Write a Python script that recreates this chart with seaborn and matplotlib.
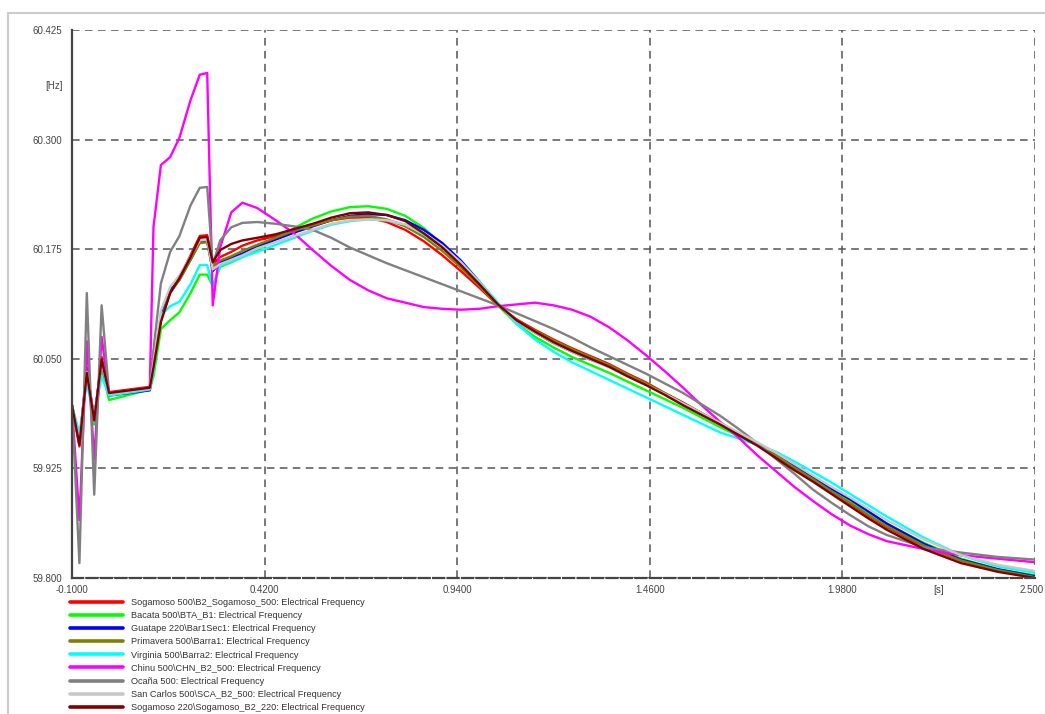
import pandas as pd
import seaborn as sns
import matplotlib.pyplot as plt
import matplotlib.transforms as mtransforms
from matplotlib.lines import Line2D
from matplotlib.ticker import FixedLocator, FixedFormatter

# time axis [s], shared by all busbars
time_s = [-0.10, -0.08, -0.06, -0.04, -0.02, 0.00, 0.11, 0.12, 0.14, 0.165,
          0.19, 0.22, 0.245, 0.265, 0.28, 0.30,
          0.33, 0.36, 0.40, 0.45, 0.50, 0.55, 0.60, 0.65, 0.70, 0.75,
          0.80, 0.85, 0.90, 0.95, 1.00, 1.05, 1.10, 1.15, 1.20, 1.25,
          1.30, 1.35, 1.40, 1.45, 1.50, 1.55, 1.60, 1.65, 1.70, 1.75,
          1.80, 1.85, 1.90, 1.95, 2.00, 2.05, 2.10, 2.20, 2.30, 2.40, 2.50]

# electrical frequency [Hz]
sogamoso500 = [59.997, 59.950, 60.040, 59.978, 60.052, 60.012, 60.018, 60.040, 60.094, 60.126,
               60.143, 60.168, 60.190, 60.191, 60.158, 60.166,
               60.172, 60.179, 60.185, 60.190, 60.196, 60.202, 60.208, 60.211, 60.211, 60.206,
               60.197, 60.184, 60.168, 60.150, 60.131, 60.111, 60.095, 60.083, 60.072, 60.062,
               60.053, 60.044, 60.033, 60.023, 60.011, 60.000, 59.988, 59.977, 59.965, 59.953,
               59.939, 59.926, 59.912, 59.899, 59.885, 59.871, 59.858, 59.836, 59.820, 59.809, 59.801]
bacata500 = [59.997, 59.955, 60.030, 59.975, 60.040, 60.003, 60.015, 60.030, 60.084, 60.094,
             60.103, 60.125, 60.146, 60.146, 60.133, 60.155,
             60.160, 60.166, 60.174, 60.187, 60.199, 60.210, 60.218, 60.223, 60.224, 60.221,
             60.213, 60.199, 60.180, 60.157, 60.134, 60.111, 60.090, 60.075, 60.063, 60.052,
             60.043, 60.034, 60.024, 60.014, 60.004, 59.994, 59.983, 59.972, 59.962, 59.952,
             59.941, 59.928, 59.915, 59.902, 59.889, 59.875, 59.862, 59.840, 59.822, 59.810, 59.803]
guatape220 = [59.997, 59.955, 60.036, 59.982, 60.046, 60.008, 60.014, 60.040, 60.100, 60.128,
              60.140, 60.163, 60.183, 60.184, 60.150, 60.160,
              60.165, 60.170, 60.178, 60.186, 60.194, 60.201, 60.208, 60.213, 60.215, 60.214,
              60.208, 60.197, 60.182, 60.162, 60.138, 60.112, 60.093, 60.080, 60.068, 60.058,
              60.049, 60.041, 60.031, 60.021, 60.010, 59.999, 59.987, 59.976, 59.964, 59.953,
              59.941, 59.928, 59.915, 59.902, 59.890, 59.876, 59.862, 59.839, 59.821, 59.810, 59.802]
primavera500 = [59.997, 59.952, 60.036, 59.980, 60.048, 60.010, 60.016, 60.038, 60.095, 60.125,
                60.140, 60.163, 60.182, 60.183, 60.155, 60.162,
                60.167, 60.173, 60.180, 60.188, 60.196, 60.202, 60.208, 60.212, 60.213, 60.209,
                60.201, 60.189, 60.173, 60.154, 60.133, 60.111, 60.094, 60.082, 60.071, 60.061,
                60.052, 60.043, 60.032, 60.022, 60.011, 59.999, 59.988, 59.976, 59.964, 59.952,
                59.940, 59.926, 59.913, 59.899, 59.886, 59.872, 59.859, 59.837, 59.820, 59.809, 59.801]
virginia500 = [59.997, 59.965, 60.022, 59.985, 60.030, 60.008, 60.015, 60.035, 60.100, 60.110,
               60.115, 60.135, 60.157, 60.157, 60.132, 60.156,
               60.161, 60.166, 60.172, 60.180, 60.188, 60.196, 60.203, 60.207, 60.209, 60.208,
               60.203, 60.192, 60.178, 60.160, 60.138, 60.114, 60.090, 60.072, 60.058, 60.046,
               60.036, 60.026, 60.016, 60.006, 59.996, 59.986, 59.976, 59.966, 59.959, 59.952,
               59.944, 59.933, 59.921, 59.909, 59.896, 59.883, 59.870, 59.846, 59.826, 59.813, 59.806]
chinu500 = [59.997, 59.866, 60.070, 59.935, 60.075, 60.011, 60.017, 60.200, 60.271, 60.280,
            60.302, 60.345, 60.374, 60.376, 60.111, 60.177,
            60.217, 60.228, 60.222, 60.208, 60.193, 60.174, 60.156, 60.140, 60.128, 60.119,
            60.114, 60.109, 60.107, 60.106, 60.107, 60.110, 60.112, 60.114, 60.111, 60.106,
            60.098, 60.086, 60.071, 60.054, 60.036, 60.017, 59.997, 59.978, 59.960, 59.940,
            59.922, 59.904, 59.888, 59.873, 59.860, 59.850, 59.842, 59.833, 59.826, 59.822, 59.818]
ocana500 = [59.997, 59.817, 60.125, 59.895, 60.111, 60.011, 60.017, 60.060, 60.136, 60.172,
            60.190, 60.225, 60.245, 60.246, 60.157, 60.185,
            60.200, 60.205, 60.206, 60.204, 60.201, 60.197, 60.188, 60.177, 60.168, 60.159,
            60.151, 60.143, 60.135, 60.127, 60.119, 60.111, 60.102, 60.093, 60.084, 60.074,
            60.063, 60.053, 60.043, 60.033, 60.022, 60.011, 59.998, 59.985, 59.970, 59.954,
            59.936, 59.919, 59.901, 59.886, 59.872, 59.859, 59.849, 59.835, 59.829, 59.824, 59.821]
sancarlos500 = [59.997, 59.955, 60.035, 59.982, 60.045, 60.010, 60.016, 60.045, 60.105, 60.132,
                60.145, 60.167, 60.185, 60.186, 60.152, 60.158,
                60.163, 60.168, 60.176, 60.183, 60.190, 60.197, 60.204, 60.208, 60.209, 60.208,
                60.203, 60.193, 60.179, 60.160, 60.137, 60.112, 60.093, 60.080, 60.068, 60.058,
                60.049, 60.040, 60.030, 60.020, 60.010, 59.999, 59.988, 59.977, 59.966, 59.955,
                59.943, 59.930, 59.917, 59.904, 59.892, 59.879, 59.866, 59.844, 59.826, 59.815, 59.808]
sogamoso220 = [59.997, 59.952, 60.034, 59.980, 60.049, 60.011, 60.017, 60.040, 60.092, 60.125,
               60.142, 60.166, 60.188, 60.189, 60.160, 60.174,
               60.181, 60.185, 60.188, 60.192, 60.198, 60.204, 60.211, 60.216, 60.217, 60.214,
               60.207, 60.193, 60.177, 60.157, 60.135, 60.112, 60.094, 60.081, 60.069, 60.059,
               60.050, 60.041, 60.030, 60.020, 60.009, 59.997, 59.986, 59.975, 59.963, 59.951,
               59.937, 59.923, 59.910, 59.896, 59.882, 59.868, 59.855, 59.833, 59.817, 59.807, 59.800]

labels = ["Sogamoso 500\\B2_Sogamoso_500: Electrical Frequency",
          "Bacata 500\\BTA_B1: Electrical Frequency",
          "Guatape 220\\Bar1Sec1: Electrical Frequency",
          "Primavera 500\\Barra1: Electrical Frequency",
          "Virginia 500\\Barra2: Electrical Frequency",
          "Chinu 500\\CHN_B2_500: Electrical Frequency",
          "Ocaña 500: Electrical Frequency",
          "San Carlos 500\\SCA_B2_500: Electrical Frequency",
          "Sogamoso 220\\Sogamoso_B2_220: Electrical Frequency"]
series = [sogamoso500, bacata500, guatape220, primavera500, virginia500,
          chinu500, ocana500, sancarlos500, sogamoso220]
colors = ["#ff0000", "#00ff00", "#0000ff", "#808000", "#00ffff",
          "#ff00ff", "#808080", "#c8c8c8", "#800000"]

yticks = [59.800, 59.925, 60.050, 60.175, 60.300, 60.425]
xticks = [-0.10, 0.42, 0.94, 1.46, 1.98, 2.50]
xtick_labels = ["-0.1000", "0.4200", "0.9400", "1.4600", "1.9800", "2.500"]

df = pd.concat([pd.DataFrame({"t": time_s, "f": s, "bus": lab})
                for s, lab in zip(series, labels)], ignore_index=True)

sns.set_style("white")
plt.rcParams["font.family"] = ["Liberation Sans", "DejaVu Sans"]

fig = plt.figure(figsize=(10.45, 7.14), dpi=100)
ax = fig.add_axes([72/1045, 1-578/714, (1035-72)/1045, (578-30)/714])

sns.lineplot(data=df, x="t", y="f", hue="bus", hue_order=labels, palette=colors,
             estimator=None, sort=False, linewidth=1.7, legend=False, ax=ax)

ax.set_xlim(-0.1, 2.5)
ax.set_ylim(59.8, 60.425)
ax.set_xlabel("")
ax.set_ylabel("")

ax.xaxis.set_major_locator(FixedLocator(xticks))
ax.xaxis.set_major_formatter(FixedFormatter(xtick_labels))
ax.yaxis.set_major_locator(FixedLocator(yticks))
ax.yaxis.set_major_formatter(FixedFormatter(["%.3f" % v for v in yticks]))
xminor = [(a + b) / 2 for a, b in zip(xticks[:-1], xticks[1:])]
yminor = [(a + b) / 2 for a, b in zip(yticks[:-1], yticks[1:])]
ax.xaxis.set_minor_locator(FixedLocator(xminor))
ax.xaxis.set_minor_formatter(FixedFormatter(["", "", "", "", "[s]"]))
ax.yaxis.set_minor_locator(FixedLocator(yminor))
ax.yaxis.set_minor_formatter(FixedFormatter(["", "", "", "", "[Hz]"]))

ax.tick_params(axis="both", which="both", direction="in", labelsize=7,
               labelcolor="#444444", color="#444444")
ax.tick_params(axis="both", which="major", length=5, width=1)
ax.tick_params(axis="both", which="minor", length=3, width=1)
ax.tick_params(axis="y", which="both", pad=7)
ax.tick_params(axis="x", which="both", pad=5)

# last x label sits at the right edge: right-align it and nudge it back
last = ax.get_xticklabels()[-1]
last.set_horizontalalignment("right")
last.set_transform(last.get_transform() + mtransforms.ScaledTranslation(9/100, 0, fig.dpi_scale_trans))

ax.grid(True, which="major", color="#555555", linestyle=(0, (5, 3.5)), linewidth=1.1)
for side in ["top", "right"]:
    ax.spines[side].set_visible(False)
ax.spines["left"].set_color("#444444")
ax.spines["left"].set_linewidth(1.6)
ax.spines["bottom"].set_color("#444444")
ax.spines["bottom"].set_linewidth(1.6)
ax.spines["bottom"].set_linestyle((0, (5, 1.5)))

handles = [Line2D([0], [0], color=c, lw=2.6) for c in colors]
fig.legend(handles, labels, loc="upper left", bbox_to_anchor=(70/1045, 1-598/714),
           frameon=False, fontsize=6.6, handlelength=5.8, handletextpad=0.85,
           labelspacing=0.45, borderpad=0, borderaxespad=0, labelcolor="#333333")

# screenshot frame
fig.add_artist(Line2D([8/1045, 1], [1-13/714, 1-13/714], color="#cccccc", lw=1.5))
fig.add_artist(Line2D([8/1045, 8/1045], [0, 1-13/714], color="#cccccc", lw=1.5))

fig.savefig("out.png", dpi=100)
